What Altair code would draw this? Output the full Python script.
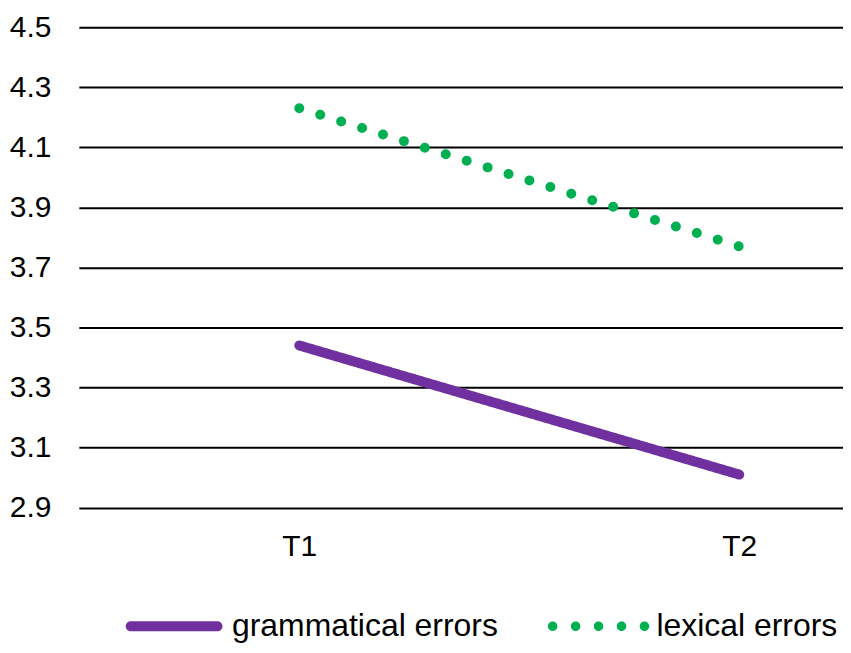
import altair as alt
import pandas as pd

times = ["T1", "T2"]
series_names = ["grammatical errors", "lexical errors"]
grammatical = [3.44, 3.01]
lexical = [4.23, 3.77]
y_ticks = [2.9, 3.1, 3.3, 3.5, 3.7, 3.9, 4.1, 4.3, 4.5]
colors = ["#7030A0", "#00B050"]
dashes = [[1, 0], [0, 21.98]]


def dot(cx, r):
    return (f"M{cx - r},0 A{r},{r} 0 1 0 {cx + r},0 "
            f"A{r},{r} 0 1 0 {cx - r},0 Z")


capsule = ("M-0.87,-0.1 L0.87,-0.1 A0.1,0.1 0 0 1 0.87,0.1 "
           "L-0.87,0.1 A0.1,0.1 0 0 1 -0.87,-0.1 Z")
five_dots = " ".join(dot(c, 0.095) for c in [-0.92, -0.46, 0.0, 0.46, 0.92])
legend_shapes = [capsule, five_dots]

rows = []
for name, vals in zip(series_names, [grammatical, lexical]):
    for t, v in zip(times, vals):
        rows.append({"time": t, "value": v, "series": name})
df = pd.DataFrame(rows)

x_enc = alt.X("time:N", title=None,
              scale=alt.Scale(type="point", domain=times, padding=0.3685, align=0.68),
              axis=alt.Axis(labelAngle=0, domain=False, ticks=False, grid=False,
                            labelFontSize=30, labelPadding=24, labelColor="black"))
y_enc = alt.Y("value:Q", title=None,
              scale=alt.Scale(domain=[2.9, 4.5], nice=False, zero=False),
              axis=alt.Axis(values=y_ticks, format=".1f", domain=False, ticks=False,
                            grid=True, gridColor="black", gridWidth=2, gridOpacity=1,
                            labelFontSize=30, labelPadding=28, labelColor="black"))

base = alt.Chart(df)

lines = []
for name, col, dash in zip(series_names, colors, dashes):
    lines.append(
        base.transform_filter(alt.datum.series == name)
        .mark_line(strokeWidth=10, strokeCap="round", color=col, strokeDash=dash)
        .encode(x=x_enc, y=y_enc)
    )

legend_def = alt.Legend(orient="none", legendX=45.5, legendY=550.5,
                        direction="horizontal", symbolSize=10000,
                        symbolStrokeWidth=0, symbolOpacity=1,
                        labelFontSize=32, labelColor="black", labelLimit=500,
                        labelOffset=8, columnPadding=49.5)

legend_layer = base.transform_filter("false").mark_point(filled=True, opacity=1).encode(
    x=x_enc, y=y_enc,
    color=alt.Color("series:N", title=None,
                    scale=alt.Scale(domain=series_names, range=colors),
                    legend=legend_def),
    shape=alt.Shape("series:N", title=None,
                    scale=alt.Scale(domain=series_names, range=legend_shapes),
                    legend=legend_def),
)

chart = alt.layer(*lines, legend_layer).properties(
    width=766, height=481.5,
    padding={"left": 71, "top": 18.5, "right": 0, "bottom": 140},
    autosize=alt.AutoSizeParams(type="none"),
).configure(
    font="Liberation Sans",
).configure_view(stroke=None)

chart.save("out.html", embed_options={"renderer": "svg", "actions": False})
